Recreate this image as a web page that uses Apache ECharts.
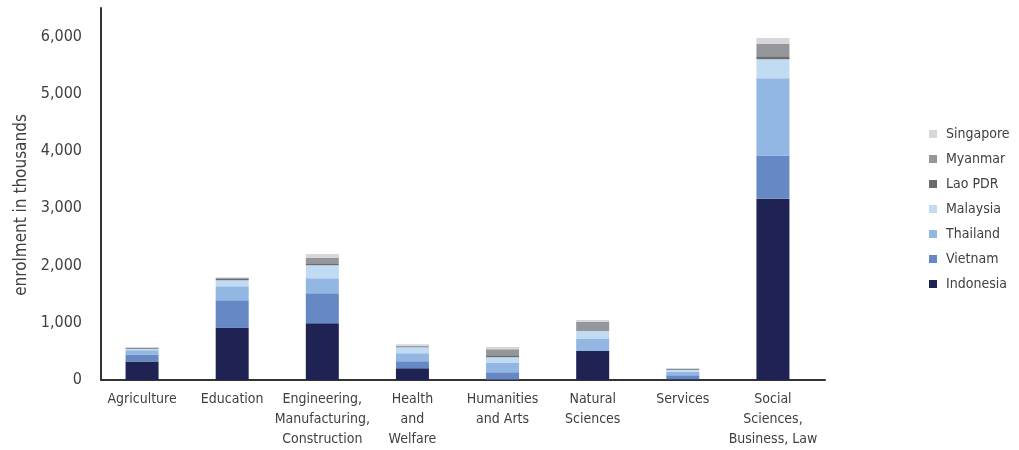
<!DOCTYPE html>
<html>
<head>
<meta charset="utf-8">
<script src="https://cdn.jsdelivr.net/npm/echarts@6/dist/echarts.min.js"></script>
<style>
  html, body { margin: 0; padding: 0; background: #ffffff; }
  #chart { width: 1019px; height: 450px; }
</style>
</head>
<body>
<div id="chart"></div>
<script>
// Tertiary enrolment by field of study, thousands of students
const categories = [
  'Agriculture', 'Education', 'Engineering,\nManufacturing,\nConstruction',
  'Health\nand\nWelfare', 'Humanities\nand Arts', 'Natural\nSciences',
  'Services', 'Social\nSciences,\nBusiness, Law'
];
const indonesia = [322, 918, 990, 205, 10, 505, 15, 3167];
const vietnam   = [125, 474, 526, 123, 125, 0, 70, 754];
const thailand  = [72, 246, 263, 140, 172, 211, 58, 1351];
const malaysia  = [25, 105, 228, 105, 92, 140, 35, 333];
const laoPDR    = [18, 35, 18, 18, 35, 0, 18, 53];
const myanmar   = [0, 0, 105, 0, 102, 158, 0, 211];
const singapore = [12, 18, 70, 35, 40, 35, 12, 105];
const yTicks = [0, 1000, 2000, 3000, 4000, 5000, 6000];
const yMax = 6500;

const seriesList = [
  { name: 'Indonesia', data: indonesia, color: '#1e2354' },
  { name: 'Vietnam',   data: vietnam,   color: '#6688c5' },
  { name: 'Thailand',  data: thailand,  color: '#92b7e2' },
  { name: 'Malaysia',  data: malaysia,  color: '#c1dcf2' },
  { name: 'Lao PDR',   data: laoPDR,    color: '#6b6c70' },
  { name: 'Myanmar',   data: myanmar,   color: '#959699' },
  { name: 'Singapore', data: singapore, color: '#d5d7db' }
];

const font = '"DejaVu Sans Condensed", "Liberation Sans", sans-serif';
const textColor = '#404040';
const axisLineStyle = { color: '#333333', width: 2 };

const chart = echarts.init(document.getElementById('chart'), null, { renderer: 'canvas' });
chart.setOption({
  animation: false,
  backgroundColor: '#ffffff',
  textStyle: { fontFamily: font },
  grid: [
    // grid for the bars and category labels
    { left: 97, right: 201, top: 8, bottom: 70, containLabel: false },
    // grid for the axis frame and value labels
    { left: 101, right: 194, top: 8, bottom: 70, containLabel: false }
  ],
  legend: {
    orient: 'vertical',
    left: 924,
    top: 122,
    itemWidth: 8,
    itemHeight: 8,
    itemGap: 11,
    icon: 'rect',
    data: seriesList.map(s => s.name).reverse(),
    textStyle: { fontFamily: font, fontSize: 14, color: textColor, padding: [0, 0, 0, 4] }
  },
  xAxis: [
    {
      type: 'category',
      gridIndex: 0,
      data: categories,
      axisLine: { show: false },
      axisTick: { show: false },
      axisLabel: {
        interval: 0,
        margin: 9,
        fontFamily: font,
        fontSize: 14,
        lineHeight: 20,
        color: textColor,
        align: 'center'
      }
    },
    {
      type: 'value',
      gridIndex: 1,
      min: 0,
      max: 1,
      axisLine: { show: true, onZero: false, lineStyle: axisLineStyle },
      axisTick: { show: false },
      axisLabel: { show: false },
      splitLine: { show: false }
    }
  ],
  yAxis: [
    {
      type: 'value',
      gridIndex: 0,
      min: 0,
      max: yMax,
      show: false
    },
    {
      type: 'value',
      gridIndex: 1,
      min: 0,
      max: yMax,
      interval: 500,
      name: 'enrolment in thousands',
      nameLocation: 'middle',
      nameRotate: 90,
      nameGap: 70,
      nameTextStyle: { fontFamily: font, fontSize: 17, color: textColor, padding: [0, 22, 0, 0] },
      axisLine: { show: true, onZero: false, lineStyle: axisLineStyle },
      axisTick: { show: false },
      splitLine: { show: false },
      axisLabel: {
        margin: 19,
        fontFamily: font,
        fontSize: 16,
        color: textColor,
        showMaxLabel: false,
        formatter: v => yTicks.includes(v) ? v.toLocaleString('en-US') : ''
      }
    }
  ],
  series: seriesList.map(s => ({
    name: s.name,
    type: 'bar',
    stack: 'total',
    xAxisIndex: 0,
    yAxisIndex: 0,
    barWidth: 33,
    data: s.data,
    itemStyle: { color: s.color },
    emphasis: { disabled: true }
  }))
});
</script>
</body>
</html>
